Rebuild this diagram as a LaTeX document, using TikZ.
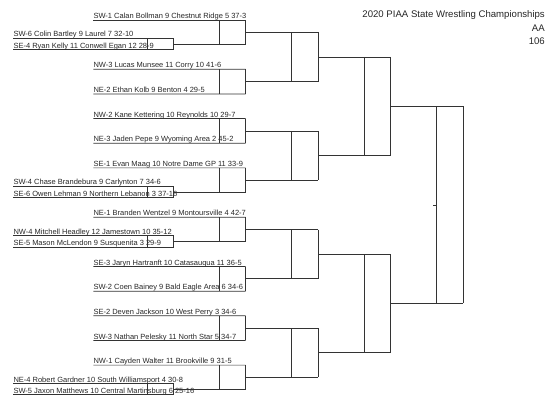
\documentclass[tikz,border=0pt]{standalone}
\usepackage{fontspec}
\setmainfont{Liberation Sans}

\begin{document}
\begin{tikzpicture}[x=1pt, y=-1pt,
  wrestler/.style={anchor=south west, inner sep=0pt, text height=5.6pt, text depth=1.2pt,
    font=\fontsize{7.5}{9}\selectfont, text=black!85},
  heading/.style={anchor=base east, inner sep=0pt, font=\fontsize{9.6}{12}\selectfont, text=black!85},
  bracket/.style={draw=black!80, line width=0.7pt}
]
  \useasboundingbox (0,0) rectangle (550,404);

  % title
  \node[heading] (event) at (545,18) {2020 PIAA State Wrestling Championships};
  \node[heading] (class) at (545,31.3) {AA};
  \node[heading] (weight) at (545,44.3) {106};

  % first round, one slot every 24.65
  \node[wrestler] (w0) at (93.3,20) {SW-1 Calan Bollman 9 Chestnut Ridge 5 37-3};
  \node[wrestler] (w2) at (93.3,69.3) {NW-3 Lucas Munsee 11 Corry 10 41-6};
  \node[wrestler] (w3) at (93.3,93.95) {NE-2 Ethan Kolb 9 Benton 4 29-5};
  \node[wrestler] (w4) at (93.3,118.6) {NW-2 Kane Kettering 10 Reynolds 10 29-7};
  \node[wrestler] (w5) at (93.3,143.25) {NE-3 Jaden Pepe 9 Wyoming Area 2 45-2};
  \node[wrestler] (w6) at (93.3,167.9) {SE-1 Evan Maag 10 Notre Dame GP 11 33-9};
  \node[wrestler] (w8) at (93.3,217.2) {NE-1 Branden Wentzel 9 Montoursville 4 42-7};
  \node[wrestler] (w10) at (93.3,266.5) {SE-3 Jaryn Hartranft 10 Catasauqua 11 36-5};
  \node[wrestler] (w11) at (93.3,291.15) {SW-2 Coen Bainey 9 Bald Eagle Area 6 34-6};
  \node[wrestler] (w12) at (93.3,315.8) {SE-2 Deven Jackson 10 West Perry 3 34-6};
  \node[wrestler] (w13) at (93.3,340.45) {SW-3 Nathan Pelesky 11 North Star 5 34-7};
  \node[wrestler] (w14) at (93.3,365.1) {NW-1 Cayden Walter 11 Brookville 9 31-5};

  % pigtail bouts
  \node[wrestler] (p0) at (13.3,38.35) {SW-6 Colin Bartley 9 Laurel 7 32-10};
  \node[wrestler] (q0) at (13.3,49.65) {SE-4 Ryan Kelly 11 Conwell Egan 12 28-9};
  \node[wrestler] (p1) at (13.3,186.25) {SW-4 Chase Brandebura 9 Carlynton 7 34-6};
  \node[wrestler] (q1) at (13.3,197.55) {SE-6 Owen Lehman 9 Northern Lebanon 3 37-16};
  \node[wrestler] (p2) at (13.3,235.55) {NW-4 Mitchell Headley 12 Jamestown 10 35-12};
  \node[wrestler] (q2) at (13.3,246.85) {SE-5 Mason McLendon 9 Susquenita 3 29-9};
  \node[wrestler] (p3) at (13.3,383.45) {NE-4 Robert Gardner 10 South Williamsport 4 30-8};
  \node[wrestler] (q3) at (13.3,394.75) {SW-5 Jaxon Matthews 10 Central Martinsburg 6 25-16};

  % bracket boxes, round by round
  \foreach \r/\xa/\xb/\n in {1/219.3/245.7/7, 2/291.7/318.3/3, 3/364.3/390.3/1, 4/436.7/463/0}
    \foreach \j in {0,...,\n}{
      \pgfmathsetmacro\yt{20+24.65*(2^\r*\j+(2^(\r-1)-1)/2)}
      \pgfmathsetmacro\yb{\yt+24.65*2^(\r-1)}
      \coordinate (t\r-\j) at (\xb,\yt);
      \coordinate (b\r-\j) at (\xb,\yb);
      \coordinate (m\r-\j) at (\xb,{(\yt+\yb)/2});
      \draw[bracket] (\xa,\yt) -- (\xa,\yb) (t\r-\j) -- (b\r-\j);
      \ifnum\r>1
        \pgfmathtruncatemacro\q{\r-1}
        \pgfmathtruncatemacro\ja{2*\j}
        \pgfmathtruncatemacro\jb{2*\j+1}
        \draw[bracket] (m\q-\ja) -- (t\r-\j) (m\q-\jb) -- (b\r-\j);
      \fi
    }
  \draw[bracket] ([xshift=-26.3pt]m4-0) -- ++(-4,0);

  % underlines into first round
  \draw[bracket] (w0.south west) -- (t1-0);
  \draw[bracket] (w2.south west) -- (t1-1) (w3.south west) -- (b1-1);
  \draw[bracket] (w4.south west) -- (t1-2) (w5.south west) -- (b1-2);
  \draw[bracket] (w6.south west) -- (t1-3);
  \draw[bracket] (w8.south west) -- (t1-4);
  \draw[bracket] (w10.south west) -- (t1-5) (w11.south west) -- (b1-5);
  \draw[bracket] (w12.south west) -- (t1-6) (w13.south west) -- (b1-6);
  \draw[bracket] (w14.south west) -- (t1-7);

  % pigtail boxes feed the empty slots
  \foreach \p/\j in {0/0, 1/3, 2/4, 3/7}{
    \draw[bracket] (p\p.south west) -- ++(160,0) coordinate (pt\p)
      -- (pt\p |- q\p.south) coordinate (pb\p) -- (q\p.south west);
    \draw[bracket] ([xshift=-26pt]pt\p) -- ([xshift=-26pt]pb\p);
    \draw[bracket] (pt\p |- b1-\j) -- (b1-\j);
  }
\end{tikzpicture}
\end{document}
